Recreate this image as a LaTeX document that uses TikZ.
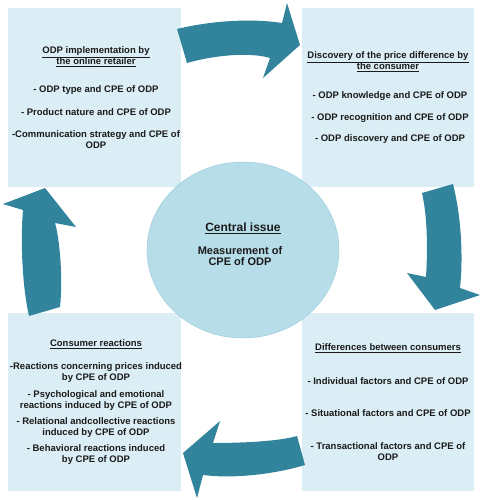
\documentclass[tikz,border=0pt]{standalone}
\usepackage{fontspec}
\usetikzlibrary{shapes.geometric}
\setmainfont{Liberation Sans}
\definecolor{boxfill}{HTML}{DBEEF5}
\definecolor{ellfill}{HTML}{B7DEE8}
\definecolor{elldraw}{HTML}{93C9DA}
\definecolor{arrowc}{HTML}{31849B}
\definecolor{txt}{HTML}{1A1A1A}
\tikzset{
  panel/.style={fill=boxfill, draw=none},
  txtline/.style={align=center, text=txt, font=\fontsize{9.5}{11}\selectfont\bfseries, inner sep=0pt},
  bigtxt/.style={align=center, text=txt, font=\fontsize{11}{11}\selectfont\bfseries, inner sep=0pt},
  headtxt/.style={align=center, text=txt, font=\fontsize{12}{12}\selectfont\bfseries, inner sep=0pt},
  blockarrow/.style={fill=arrowc, draw=none},
  hub/.style={draw=elldraw, fill=ellfill, shape=ellipse, minimum width=192pt, minimum height=176pt, inner sep=0pt}
}
\begin{document}
\begin{tikzpicture}[x=1pt,y=-1pt]
\useasboundingbox (0,0) rectangle (483,500);
% panels
\fill[panel] (8,8) rectangle (181,187);
\fill[panel] (302,8) rectangle (474,187);
\fill[panel] (8,313) rectangle (181,491);
\fill[panel] (302,313) rectangle (474,491);
% central ellipse
\node[hub] (center) at (243,250) {};
% block arrows
\fill[blockarrow] (177,29) .. controls (210,21) and (250,18) .. (282,23) -- (287,3) -- (300,45) -- (263,78) -- (270,58) .. controls (250,52) and (215,55) .. (187,63) -- cycle;
\fill[blockarrow] (422,193) -- (453,184) .. controls (462,220) and (463,260) .. (460,288) -- (480,295) -- (435,310) -- (407,273) -- (426,277) .. controls (428,245) and (427,215) .. (422,193) -- cycle;
\fill[blockarrow] (297,436) -- (305,465) .. controls (275,474) and (235,479) .. (203,475) -- (197,498) -- (183,453) -- (220,421) -- (213,443) .. controls (245,443) and (280,441) .. (297,436) -- cycle;
\fill[blockarrow] (29,316) -- (60,307) .. controls (63,280) and (60,240) .. (55,223) -- (76,227) -- (45,188) -- (3,204) -- (23,210) .. controls (20,245) and (23,290) .. (29,316) -- cycle;
% box 1
\node[txtline] (t1) at (96,57) {\underline{ODP implementation by}\\\underline{the online retailer}};
\node[txtline] (a1) at (96,90) {- ODP type and CPE of ODP};
\node[txtline] (a2) at (96,112) {- Product nature and CPE of ODP};
\node[txtline] (a3) at (96,139.5) {-Communication strategy and CPE of\\ODP};
% box 2
\node[txtline] (t2) at (388,62) {\underline{Discovery of the price difference by}\\\underline{the consumer}};
\node[txtline] (b1) at (390,96) {- ODP knowledge and CPE of ODP};
\node[txtline] (b2) at (390,118) {- ODP recognition and CPE of ODP};
\node[txtline] (b3) at (390,139) {- ODP discovery and CPE of ODP};
% box 3
\node[txtline] (t3) at (96,344) {\underline{Consumer reactions}};
\node[txtline] (c1) at (96,372.5) {-Reactions concerning prices induced\\by CPE of ODP};
\node[txtline] (c2) at (96,400.5) {- Psychological and emotional\\reactions induced by CPE of ODP};
\node[txtline] (c3) at (96,427.5) {- Relational andcollective reactions\\induced by CPE of ODP};
\node[txtline] (c4) at (96,454.5) {- Behavioral reactions induced\\by CPE of ODP};
% box 4
\node[txtline] (t4) at (388,348) {\underline{Differences between consumers}};
\node[txtline] (d1) at (388,381) {- Individual factors and CPE of ODP};
\node[txtline] (d2) at (388,413) {- Situational factors and CPE of ODP};
\node[txtline] (d3) at (388,452) {- Transactional factors and CPE of\\ODP};
% centre text
\node[headtxt] (ct) at (243,228) {\underline{Central issue}};
\node[bigtxt] (cm) at (240,256.5) {Measurement of\\CPE of ODP};
\end{tikzpicture}
\end{document}
